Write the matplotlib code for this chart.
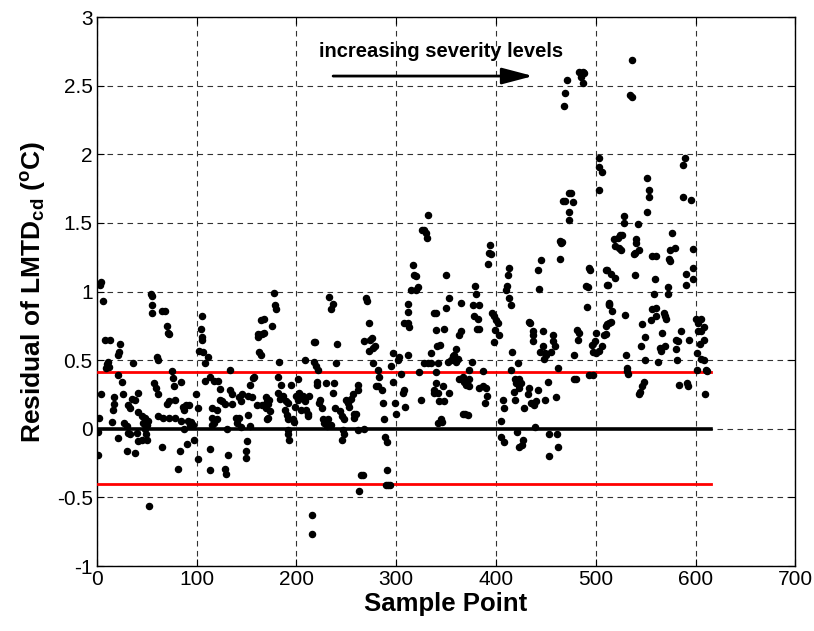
import matplotlib
matplotlib.use("Agg")
import matplotlib.pyplot as plt
import numpy as np

plt.rcParams['font.family'] = ['Liberation Sans', 'DejaVu Sans']
plt.rcParams['mathtext.fontset'] = 'custom'
plt.rcParams['mathtext.rm'] = 'Liberation Sans:bold'
plt.rcParams['mathtext.bf'] = 'Liberation Sans:bold'
plt.rcParams['mathtext.it'] = 'Liberation Sans:bold'

# (sample point, residual), in four x ranges
seg_a = [(3,1.05),(4,1.07),(6,0.93),(8,0.65),(13,0.65),(23,0.62),(22,0.56),(21,0.54),(11,0.49),(10,0.47),
         (12,0.45),(9,0.44),(36,0.48),(21,0.39),(25,0.34),(4,0.25),(17,0.23),(17,0.18),(16,0.14),(26,0.25),
         (31,0.17),(33,0.15),(35,0.22),(38,0.21),(41,0.26),(41,0.12),(45,0.09),(48,0.08),(46,0.04),(50,0.03),
         (51,0.06),(2,0.08),(15,0.05),(27,0.04),(30,0.02),(31,-0.03),(33,-0.04),(40,-0.03),(1,-0.02),(21,-0.07),
         (48,0.0),(49,-0.04),(41,-0.09),(45,-0.08),(50,-0.08),(1,-0.19),(30,-0.16),(38,-0.18),(52,-0.56),(54,0.98),
         (55,0.97),(55,0.9),(55,0.84),(65,0.86),(68,0.86),(70,0.75),(71,0.7),(72,0.69),(60,0.52),(61,0.5),
         (57,0.33),(59,0.3),(61,0.25),(75,0.42),(76,0.37),(77,0.31),(84,0.34),(72,0.2),(78,0.21),(70,0.18),
         (61,0.09),(66,0.08),(72,0.08),(78,0.08),(84,0.06),(86,0.16),(89,0.17),(92,0.17),(87,0.14),(87,0.0),
         (91,0.06),(94,0.05),(96,0.03),(93,0.03),(99,0.25),(101,0.15),(97,-0.08),(90,-0.11),(83,-0.16),(81,-0.29),
         (65,-0.13),(101,-0.22),(105,0.82),(104,0.73),(105,0.67),(105,0.65),(102,0.57),(106,0.56),(111,0.52),(108,0.48),
         (108,0.35),(113,0.38),(117,0.35),(121,0.35),(123,0.29),(123,0.21),(115,0.15),(120,0.14),(125,0.2),(128,0.18),
         (115,0.08),(117,0.04),(120,0.07),(115,0.03),(130,0.0),(113,-0.15),(113,-0.3),(128,-0.29),(129,-0.33),(131,-0.19),
         (133,0.43),(133,0.28),(135,0.25),(135,0.18),(139,0.08),(142,0.08),(140,0.04),(144,0.01),(142,0.23),(145,0.25),
         (144,0.2),(151,0.24),(155,0.23),(151,0.1),(153,0.02),(150,-0.09),(149,-0.16),(149,-0.21),(157,0.38),(156,0.37),
         (153,0.32),(161,0.67),(162,0.69),(163,0.56),(165,0.54),(166,0.69),(165,0.79),(160,0.17),(166,0.17),(170,0.23),
         (171,0.2),(171,0.07)]

seg_b = [(178,0.99),(179,0.9),(180,0.87),(176,0.75),(168,0.70),(168,0.8),(183,0.49),(182,0.38),(185,0.32),(182,0.26),
         (187,0.24),(184,0.22),(173,0.21),(172,0.18),(170,0.15),(174,0.13),(172,0.08),(190,0.2),(192,0.19),(189,0.14),
         (191,0.1),(192,0.07),(197,0.07),(198,0.05),(192,-0.01),(192,-0.04),(193,-0.08),(195,0.32),(202,0.36),(203,0.26),
         (200,0.24),(199,0.16),(202,0.21),(207,0.24),(205,0.14),(209,0.2),(210,0.14),(212,0.11),(212,0.09),(213,0.24),
         (209,0.5),(218,0.49),(220,0.46),(222,0.43),(218,0.63),(219,0.63),(221,0.34),(221,0.32),(224,0.21),(223,0.19),
         (226,0.15),(227,0.07),(228,0.04),(231,0.02),(230,0.33),(238,0.33),(240,0.48),(237,0.26),(239,0.15),(232,0.07),
         (235,0.03),(233,0.96),(237,0.91),(235,0.87),(241,0.62),(244,0.13),(246,0.09),(248,0.07),(247,-0.01),(248,-0.04),
         (246,-0.08),(250,0.21),(252,0.19),(253,0.16),(255,0.22),(257,0.25),(258,0.11),(258,0.08),(260,0.11),(262,-0.01),
         (262,0.32),(262,0.28),(265,-0.34),(267,-0.34),(263,-0.45),(216,-0.63),(216,-0.77),(268,0.0),(270,0.95),(271,0.93),
         (273,0.77),(268,0.64),(274,0.65),(276,0.66),(273,0.57),(277,0.59),(279,0.6),(277,0.48),(282,0.43),(283,0.38),
         (282,0.31),(280,0.31),(286,0.28),(287,0.19),(288,0.07),(289,-0.06),(291,-0.1),(291,-0.3),(292,-0.41),(290,-0.41),
         (294,-0.41),(295,0.46),(297,0.55),(297,0.34),(299,0.19),(300,0.11),(302,0.5),(303,0.52),(305,0.4),(307,0.26),
         (308,0.28),(309,0.16),(312,0.54),(308,0.77),(312,0.77),(312,0.85),(313,0.74),(312,0.91),(317,1.19),(318,1.12),
         (320,1.11),(322,1.03),(320,1.01),(315,1.01),(326,1.45),(328,1.45),(330,1.43),(331,1.39),(332,1.56),(338,0.84),
         (323,0.41),(325,0.21),(328,0.48),(332,0.48),(335,0.55),(335,0.48),(338,0.26),(338,0.28),(341,0.6),(342,0.04)]

seg_c = [(350,1.12),(353,0.95),(350,0.88),(340,0.84),(340,0.72),(348,0.73),(344,0.61),(342,0.48),(340,0.41),(352,0.49),
         (355,0.5),(357,0.53),(358,0.54),(360,0.58),(362,0.51),(360,0.49),(340,0.33),(342,0.26),(347,0.31),(348,0.2),
         (353,0.26),(343,0.2),(346,0.05),(345,0.07),(363,0.68),(365,0.71),(365,0.92),(363,0.36),(367,0.38),(368,0.34),
         (370,0.32),(373,0.36),(373,0.31),(373,0.43),(376,0.49),(367,0.11),(369,0.11),(372,0.1),(377,0.9),(379,1.04),
         (380,0.98),(383,0.9),(378,0.82),(382,0.8),(383,0.73),(381,0.73),(383,0.3),(387,0.31),(390,0.3),(391,0.24),
         (389,0.19),(387,0.42),(392,1.2),(394,1.34),(393,1.28),(395,1.27),(396,0.84),(398,0.82),(400,0.79),(402,0.77),
         (399,0.72),(403,0.68),(398,0.63),(405,0.06),(405,-0.06),(408,-0.1),(407,0.21),(408,0.15),(410,1.01),(412,1.12),
         (413,1.17),(411,1.04),(413,0.95),(415,0.9),(416,0.56),(415,0.43),(419,0.36),(422,0.48),(420,0.33),(423,0.36),
         (425,0.33),(418,0.27),(419,0.21),(423,0.3),(421,-0.02),(423,-0.13),(426,-0.12),(427,-0.08),(428,0.15),(432,0.25),
         (433,0.3),(435,0.19),(438,0.17),(440,0.2),(442,0.28),(439,0.01),(433,0.78),(434,0.77),(437,0.71),(437,0.68),
         (437,0.64),(442,1.16),(445,1.23),(443,1.02),(447,0.71),(444,0.56),(447,0.6),(449,0.55),(448,0.51),(450,0.54),
         (455,0.56),(457,0.68),(457,0.64),(459,0.6),(452,0.34),(449,0.21),(453,-0.04),(453,-0.2),(462,-0.13),(461,-0.04),
         (460,0.23),(462,0.44),(464,1.24),(465,1.35),(466,1.36),(464,1.37),(467,1.66),(469,1.66),(473,1.72),(475,1.72),
         (477,1.65),(473,1.58),(473,1.52),(468,2.35),(469,2.45),(471,2.54),(483,2.6),(487,2.6),(488,2.59),(485,2.56),
         (487,2.52),(478,0.54),(481,0.72),(483,0.7),(482,0.65),(478,0.36),(480,0.36),(490,1.04),(492,1.03),(491,0.89),
         (493,1.17),(494,1.16),(493,0.39),(497,0.39),(496,0.61),(497,0.56),(499,0.64),(500,0.7),(500,0.55),(503,0.57),
         (506,0.6),(508,0.68),(510,0.75),(503,1.97),(503,1.91),(506,1.87),(503,1.74),(510,1.16),(512,1.05),(513,0.9),
         (513,0.91),(513,0.77)]

seg_d = [(536,2.69),(534,2.43),(536,2.42),(551,1.83),(553,1.74),(553,1.69),(551,1.58),(589,1.97),(587,1.92),(587,1.69),
         (595,1.67),(528,1.55),(528,1.5),(542,1.49),(518,1.38),(519,1.33),(522,1.39),(524,1.41),(526,1.41),(523,1.32),
         (525,1.3),(540,1.38),(540,1.35),(543,1.3),(539,1.28),(538,1.27),(556,1.26),(560,1.26),(576,1.43),(579,1.32),
         (574,1.3),(573,1.24),(574,1.22),(597,1.31),(597,1.17),(597,1.09),(590,1.13),(590,1.05),(511,1.16),(515,1.13),
         (519,1.1),(511,1.05),(539,1.12),(559,1.09),(558,0.98),(572,1.03),(572,0.98),(513,0.92),(516,0.86),(515,0.78),
         (511,0.76),(510,0.69),(529,0.83),(556,0.87),(560,0.88),(560,0.82),(555,0.79),(568,0.84),(569,0.82),(570,0.8),
         (546,0.76),(549,0.67),(566,0.7),(545,0.6),(564,0.59),(569,0.6),(565,0.57),(580,0.65),(582,0.64),(585,0.71),
         (580,0.58),(593,0.65),(600,0.8),(606,0.8),(603,0.77),(609,0.74),(606,0.71),(603,0.71),(609,0.65),(605,0.62),
         (601,0.55),(606,0.51),(609,0.5),(601,0.43),(611,0.43),(612,0.42),(530,0.54),(549,0.5),(562,0.49),(581,0.5),
         (531,0.44),(531,0.42),(532,0.4),(548,0.34),(546,0.31),(544,0.27),(543,0.25),(583,0.32),(591,0.33),(592,0.31),
         (610,0.25)]

# threshold lines and zero reference
line_x = [1, 616]
upper_thr = [0.41, 0.41]
lower_thr = [-0.40, -0.40]
zero_ref = [0.0, 0.0]

x_ticks = [0, 100, 200, 300, 400, 500, 600, 700]
y_ticks = [-1, -0.5, 0, 0.5, 1, 1.5, 2, 2.5, 3]
y_tick_labels = ['-1', '-0.5', '0', '0.5', '1', '1.5', '2', '2.5', '3']

pts = seg_a + seg_b + seg_c + seg_d
xs = [p[0] for p in pts]
ys = [p[1] for p in pts]

fig = plt.figure(figsize=(8.14, 6.31), dpi=100)
ax = fig.add_axes([0.119, 0.103, 0.858, 0.870])

ax.plot(line_x, zero_ref, color='black', lw=2.6, zorder=3)
ax.plot(line_x, upper_thr, color='red', lw=2.0, zorder=3)
ax.plot(line_x, lower_thr, color='red', lw=2.0, zorder=3)
ax.plot(xs, ys, linestyle='none', marker='o', ms=4.4, color='black', zorder=4)

ax.set_xlim(0, 700)
ax.set_ylim(-1, 3)
ax.set_xticks(x_ticks)
ax.set_yticks(y_ticks)
ax.set_yticklabels(y_tick_labels)
ax.tick_params(direction='in', length=5, width=0.8, labelsize=15, top=True, right=True, pad=3)
ax.grid(True, color='#333333', linestyle=(0, (5, 4)), lw=0.8)
ax.set_axisbelow(True)
for s in ax.spines.values():
    s.set_linewidth(1.0)

ax.set_xlabel('Sample Point', fontsize=18.5, fontweight='bold', labelpad=2)
ax.set_ylabel(r'Residual of LMTD$_{\mathrm{cd}}$ ($^{\mathrm{o}}$C)', fontsize=19,
              fontweight='bold', labelpad=6)

ax.annotate('', xy=(440, 2.57), xytext=(234, 2.57),
            arrowprops=dict(arrowstyle='-|>,head_length=1.9,head_width=0.5', color='black', lw=2.0))
ax.text(345, 2.75, 'increasing severity levels', fontsize=14.5, fontweight='bold',
        ha='center', va='center')

fig.savefig('out.png', dpi=100)
